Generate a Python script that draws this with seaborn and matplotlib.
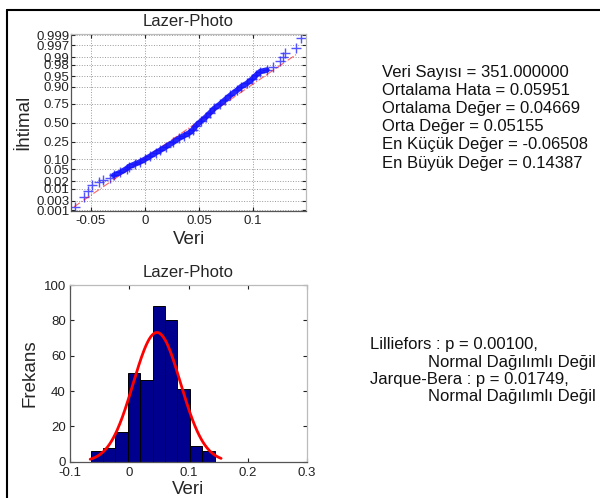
import numpy as np
import pandas as pd
import seaborn as sns
import matplotlib
matplotlib.use("Agg")
import matplotlib.pyplot as plt
from matplotlib.lines import Line2D
from statistics import NormalDist

# --- veriler ---
# normal olasilik grafigi: veri degerleri ve ihtimal degerleri
veri = [-0.0651, -0.0565, -0.0530, -0.0494, -0.0430, -0.0390, -0.0324, -0.0290,
        -0.0230, -0.0170, -0.0150, -0.0090, -0.0046, 0.0000, 0.0046, 0.0100,
        0.0139, 0.0190, 0.0262, 0.0310, 0.0360, 0.0410, 0.0440, 0.0470,
        0.0515, 0.0560, 0.0600, 0.0640, 0.0690, 0.0735, 0.0790, 0.0850,
        0.0890, 0.0941, 0.0990, 0.1030, 0.1065, 0.1127, 0.1180, 0.1250,
        0.1280, 0.1296, 0.1398, 0.1439]
ihtimal = [0.00142, 0.00427, 0.0082, 0.0136, 0.0179, 0.0217, 0.0268, 0.032,
           0.040, 0.053, 0.061, 0.074, 0.084, 0.100, 0.119, 0.147,
           0.166, 0.198, 0.248, 0.291, 0.326, 0.363, 0.401, 0.460,
           0.520, 0.579, 0.637, 0.695, 0.742, 0.788, 0.836, 0.875,
           0.900, 0.918, 0.939, 0.955, 0.965, 0.969, 0.976, 0.985,
           0.990, 0.9929, 0.99573, 0.99858]
ref_ort, ref_std = 0.0475, 0.0382      # kirmizi referans dogru
ref_x = [-0.0657, 0.1400]

# histogram
frekans = [6, 8, 17, 50, 46, 88, 80, 41, 9, 6]
veri_min, veri_max = -0.06508, 0.14387
ortalama, std = 0.04669, 0.0400

ihtimal_ticks = [0.001, 0.003, 0.01, 0.02, 0.05, 0.10, 0.25, 0.50,
                 0.75, 0.90, 0.95, 0.98, 0.99, 0.997, 0.999]
ihtimal_etiket = ["0.001", "0.003", "0.01", "0.02", "0.05", "0.10", "0.25", "0.50",
                  "0.75", "0.90", "0.95", "0.98", "0.99", "0.997", "0.999"]

bilgi = ["Veri Sayısı = 351.000000", "Ortalama Hata = 0.05951",
         "Ortalama Değer = 0.04669", "Orta Değer = 0.05155",
         "En Küçük Değer = -0.06508", "En Büyük Değer = 0.14387"]

sns.set_style("white")
plt.rcParams["font.family"] = ["Liberation Sans", "DejaVu Sans"]

nd = NormalDist()
probit = np.vectorize(lambda p: nd.inv_cdf(min(max(p, 1e-9), 1 - 1e-9)),
                      otypes=[float])
probit_inv = np.vectorize(lambda z: nd.cdf(z), otypes=[float])

fig = plt.figure(figsize=(6, 4.98), dpi=100)

# --- normal olasilik grafigi ---
ax1 = fig.add_axes([0.1183, 0.5763, 0.392, 0.3554])
ax1.set_yscale("function", functions=(probit, probit_inv))
xr = np.array(ref_x)
pr = np.array([NormalDist(ref_ort, ref_std).cdf(v) for v in xr])
ax1.plot(xr, pr, color="red", ls="-.", lw=0.8, alpha=0.6)
df1 = pd.DataFrame({"veri": veri, "ihtimal": ihtimal})
yogun = df1[(df1["ihtimal"] > 0.03) & (df1["ihtimal"] < 0.97)]
ax1.plot(yogun["veri"], yogun["ihtimal"], color="#1010ff", lw=4, alpha=0.9)
sns.scatterplot(data=df1, x="veri", y="ihtimal", marker="+", s=60,
                color="#3535ff", linewidth=1.0, alpha=0.85, ax=ax1)
ax1.set_xlim(-0.0685, 0.149)
ax1.set_ylim(0.00093, 0.99915)
ax1.set_yticks(ihtimal_ticks)
ax1.set_yticklabels(ihtimal_etiket)
ax1.yaxis.set_minor_locator(matplotlib.ticker.NullLocator())
ax1.set_xticks([-0.05, 0, 0.05, 0.1])
ax1.set_xticklabels(["-0.05", "0", "0.05", "0.1"])
ax1.grid(True, ls=":", color="#999999", lw=0.7)
ax1.set_title("Lazer-Photo", fontsize=12, pad=6)
ax1.set_xlabel("Veri", fontsize=13.5, labelpad=3)
ax1.set_ylabel("İhtimal", fontsize=13.5, labelpad=3)

# --- histogram ---
ax2 = fig.add_axes([0.1167, 0.0729, 0.395, 0.3548])
kenar = np.linspace(veri_min, veri_max, len(frekans) + 1)
df2 = pd.DataFrame({"merkez": (kenar[:-1] + kenar[1:]) / 2, "frekans": frekans})
sns.histplot(data=df2, x="merkez", weights="frekans", bins=kenar.tolist(),
             color="#00008f", edgecolor="black", linewidth=0.7, alpha=1, ax=ax2)
bw = kenar[1] - kenar[0]
xs = np.linspace(-0.066, 0.155, 200)
egri = [sum(frekans) * bw * NormalDist(ortalama, std).pdf(v) for v in xs]
sns.lineplot(x=xs, y=egri, color="red", lw=2, ax=ax2)
ax2.set_xlim(-0.1, 0.3)
ax2.set_ylim(0, 100)
ax2.set_xticks([-0.1, 0, 0.1, 0.2, 0.3])
ax2.set_xticklabels(["-0.1", "0", "0.1", "0.2", "0.3"])
ax2.set_yticks([0, 20, 40, 60, 80, 100])
ax2.set_title("Lazer-Photo", fontsize=12, pad=6)
ax2.set_xlabel("Veri", fontsize=13.5, labelpad=1)
ax2.set_ylabel("Frekans", fontsize=13.5, labelpad=4)

for ax in (ax1, ax2):
    ax.tick_params(direction="in", length=3, labelsize=9.5, colors="#222222",
                   pad=3, right=True, top=True, left=True, bottom=True)
    for s in ("left", "bottom"):
        ax.spines[s].set_color("#555555")
    for s in ("top", "right"):
        ax.spines[s].set_color("#bbbbbb")
    for s in ax.spines.values():
        s.set_linewidth(0.9)
ax1.tick_params(axis="y", labelsize=9.5, pad=1)
ax2.tick_params(axis="x", pad=4)

# --- sag taraftaki metinler ---
for i, t in enumerate(bilgi):
    fig.text(382 / 600, 1 - (72 + i * 18.2) / 498, t, fontsize=12, va="center",
             color="#111111")
fig.text(370 / 600, 1 - 345 / 498, "Lilliefors : p = 0.00100,", fontsize=12,
         va="center", color="#111111")
fig.text(428 / 600, 1 - 362 / 498, "Normal Dağılımlı Değil", fontsize=12,
         va="center", color="#111111")
fig.text(370 / 600, 1 - 379 / 498, "Jarque-Bera : p = 0.01749,", fontsize=12,
         va="center", color="#111111")
fig.text(428 / 600, 1 - 396 / 498, "Normal Dağılımlı Değil", fontsize=12,
         va="center", color="#111111")

# cerceve
fig.add_artist(Line2D([7 / 600, 7 / 600], [0, 1 - 10 / 498], color="black", lw=1.5))
fig.add_artist(Line2D([7 / 600, 1], [1 - 10 / 498, 1 - 10 / 498], color="black", lw=1.5))

fig.savefig("out.png", dpi=100)
